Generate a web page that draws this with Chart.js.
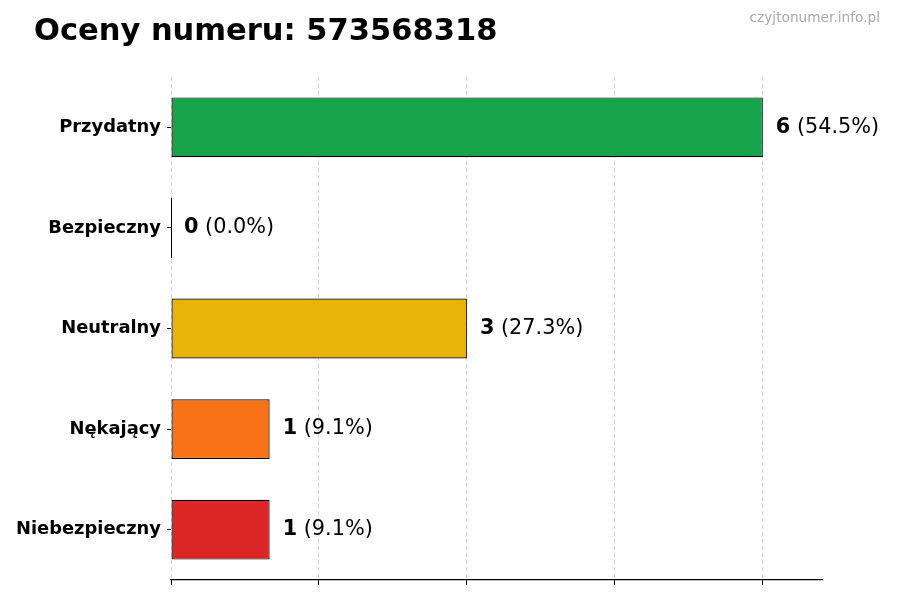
<!DOCTYPE html>
<html>
<head>
<meta charset="utf-8">
<script src="https://cdn.jsdelivr.net/npm/chart.js@4.4.0/dist/chart.umd.min.js"></script>
<style>
  html, body { margin: 0; padding: 0; background: #fff; }
  #wrap { width: 900px; height: 600px; }
</style>
</head>
<body>
<div id="wrap"><canvas id="myChart" width="900" height="600"></canvas></div>
<script>
var titleText = 'Oceny numeru: 573568318';
var watermark = 'czyjtonumer.info.pl';
var categories = ['Przydatny', 'Bezpieczny', 'Neutralny', 'Nękający', 'Niebezpieczny'];
var counts = [6, 0, 3, 1, 1];
var barColors = ['#17a34a', '#9ca3af', '#eab308', '#f97316', '#dc2626'];
var xTicks = [0, 1.5, 3, 4.5, 6];
var xMax = 6.6;

var total = counts.reduce(function (a, b) { return a + b; }, 0);

// title, watermark and value labels
var labelPlugin = {
  id: 'labelPlugin',
  afterDatasetsDraw: function (chart) {
    var ctx = chart.ctx;
    var xs = chart.scales.x;
    var ys = chart.scales.y;
    ctx.save();
    ctx.textBaseline = 'middle';
    counts.forEach(function (v, i) {
      var x = xs.getPixelForValue(v);
      var y = ys.getPixelForValue(i);
      if (v === 0) {
        ctx.strokeStyle = '#000';
        ctx.lineWidth = 1;
        ctx.beginPath();
        ctx.moveTo(x + 0.5, y - 30);
        ctx.lineTo(x + 0.5, y + 30);
        ctx.stroke();
      }
      var pct = ' (' + (v / total * 100).toFixed(1) + '%)';
      ctx.fillStyle = '#000';
      ctx.font = 'bold 20.8px "DejaVu Sans"';
      ctx.textAlign = 'left';
      var tx = x + 13;
      ctx.fillText(String(v), tx, y);
      var w = ctx.measureText(String(v)).width;
      ctx.font = '20.8px "DejaVu Sans"';
      ctx.fillText(pct, tx + w, y);
    });
    ctx.textBaseline = 'alphabetic';
    ctx.font = 'bold 30.5px "DejaVu Sans"';
    ctx.fillStyle = '#000';
    ctx.textAlign = 'left';
    ctx.fillText(titleText, 34, 40);
    ctx.font = '13.7px "DejaVu Sans"';
    ctx.fillStyle = '#aaaaaa';
    ctx.textAlign = 'right';
    ctx.fillText(watermark, 880, 22);
    ctx.restore();
  }
};

var config = {
  type: 'bar',
  data: {
    labels: categories,
    datasets: [
      {
        data: counts,
        backgroundColor: barColors,
        borderColor: '#000',
        borderWidth: 1.2,
        borderSkipped: false,
        barPercentage: 0.6,
        categoryPercentage: 0.99,
      },
    ],
  },
  options: {
    indexAxis: 'y',
    responsive: false,
    animation: false,
    layout: { padding: { top: 77, right: 78, bottom: 0, left: 0 } },
    plugins: {
      legend: { display: false },
      tooltip: { enabled: false },
      title: { display: false },
    },
    scales: {
      x: {
        min: 0,
        max: xMax,
        afterBuildTicks: function (scale) {
          scale.ticks = xTicks.map(function (v) { return { value: v }; });
        },
        afterFit: function (scale) { scale.height = 20; },
        ticks: { display: false },
        grid: {
          color: '#d6d6d6',
          tickColor: '#000',
          tickLength: 5,
          tickBorderDash: [],
        },
        border: { display: true, color: '#000', width: 1.2, dash: [4, 3] },
      },
      y: {
        afterFit: function (scale) { scale.width = 171; },
        ticks: {
          color: '#000',
          padding: 6,
          font: { family: 'DejaVu Sans', size: 17.9, weight: 'bold' },
        },
        grid: {
          offset: false,
          drawOnChartArea: false,
          drawTicks: true,
          tickLength: 4,
          tickColor: '#000',
        },
        border: { display: false },
      },
    },
  },
  plugins: [labelPlugin],
};

var ctx = document.getElementById('myChart');
var chart = new Chart(ctx, config);
</script>
</body>
</html>
